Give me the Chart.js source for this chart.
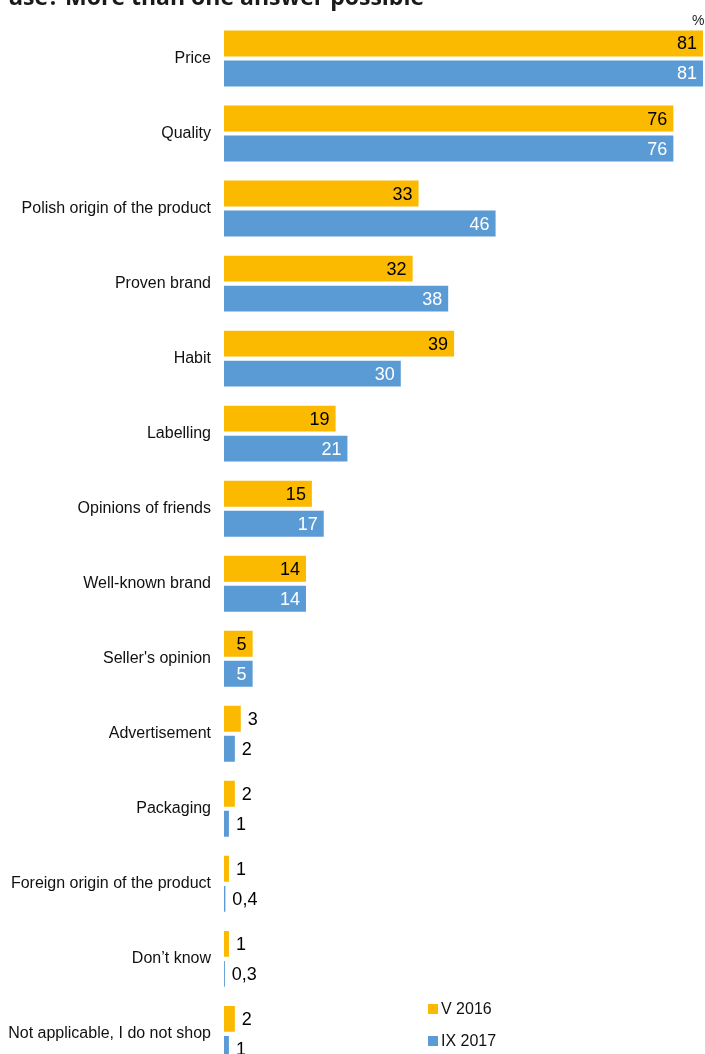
<!DOCTYPE html>
<html>
<head>
<meta charset="utf-8">
<script src="https://cdn.jsdelivr.net/npm/chart.js@4/dist/chart.umd.min.js"></script>
<style>
  html, body { margin: 0; padding: 0; background: #fff; overflow: hidden; }
  #wrap { position: relative; width: 705px; height: 1086px; }
  #title { position: absolute; left: 8px; top: -20px; font: bold 23px "Open Sans", sans-serif; color: #1a1a1a; white-space: nowrap; }
  #pct { position: absolute; left: 692px; top: 12px; font: 14px "Liberation Sans", Arial, sans-serif; color: #222; }
  .leg { position: absolute; left: 428px; font: 16px "Liberation Sans", Arial, sans-serif; color: #111; }
  .leg i { display: inline-block; width: 10px; height: 10px; margin-right: 3px; }
</style>
</head>
<body>
<div id="wrap">
  <canvas id="c" width="705" height="1086"></canvas>
  <div id="title">use? More than one answer possible</div>
  <div id="pct">%</div>
  <div class="leg" style="top:1000px"><i style="background:#FBB900"></i>V 2016</div>
  <div class="leg" style="top:1032px"><i style="background:#5B9BD5"></i>IX 2017</div>
</div>
<script>
// dane z wykresu
const categories = ["Price", "Quality", "Polish origin of the product", "Proven brand", "Habit",
  "Labelling", "Opinions of friends", "Well-known brand", "Seller's opinion", "Advertisement",
  "Packaging", "Foreign origin of the product", "Don\u2019t know", "Not applicable, I do not shop"];
const v2016 = [81, 76, 33, 32, 39, 19, 15, 14, 5, 3, 2, 1, 1, 2];
const ix2017 = [81, 76, 46, 38, 30, 21, 17, 14, 5, 2, 1, 0.4, 0.3, 1];

// etykiety wartosci przy slupkach
const valueLabels = {
  id: "valueLabels",
  afterDatasetsDraw(chart) {
    const ctx = chart.ctx;
    ctx.save();
    ctx.font = '18px "Liberation Sans", Arial, sans-serif';
    ctx.textBaseline = "middle";
    chart.data.datasets.forEach((ds, di) => {
      chart.getDatasetMeta(di).data.forEach((bar, i) => {
        const v = ds.data[i];
        const txt = String(v).replace(".", ",");
        if (v >= 5) {
          ctx.textAlign = "right";
          ctx.fillStyle = di === 0 ? "#000" : "#fff";
          ctx.fillText(txt, bar.x - 7, bar.y + 1);
        } else {
          ctx.textAlign = "left";
          ctx.fillStyle = "#000";
          ctx.fillText(txt, bar.x + 6, bar.y + 1);
        }
      });
    });
    ctx.restore();
  }
};

new Chart(document.getElementById("c"), {
  type: "bar",
  data: {
    labels: categories,
    datasets: [
      { label: "V 2016", data: v2016, backgroundColor: "#FBB900", borderColor: "#fff", borderWidth: 1,
        categoryPercentage: 0.8, barPercentage: 0.93 },
      { label: "IX 2017", data: ix2017, backgroundColor: "#5B9BD5", borderColor: "#fff", borderWidth: 1,
        categoryPercentage: 0.8, barPercentage: 0.93 }
    ]
  },
  options: {
    indexAxis: "y",
    responsive: false,
    animation: false,
    layout: { padding: { top: 21, bottom: 1, right: 1, left: 0 } },
    plugins: { legend: { display: false }, tooltip: { enabled: false } },
    scales: {
      x: { display: false, min: 0, max: 81 },
      y: {
        grid: { display: false },
        border: { display: false },
        ticks: { color: "#111", font: { family: '"Liberation Sans", Arial, sans-serif', size: 16 }, padding: 5 },
        afterFit(s) { s.width = 224; }
      }
    }
  },
  plugins: [valueLabels]
});
</script>
</body>
</html>
